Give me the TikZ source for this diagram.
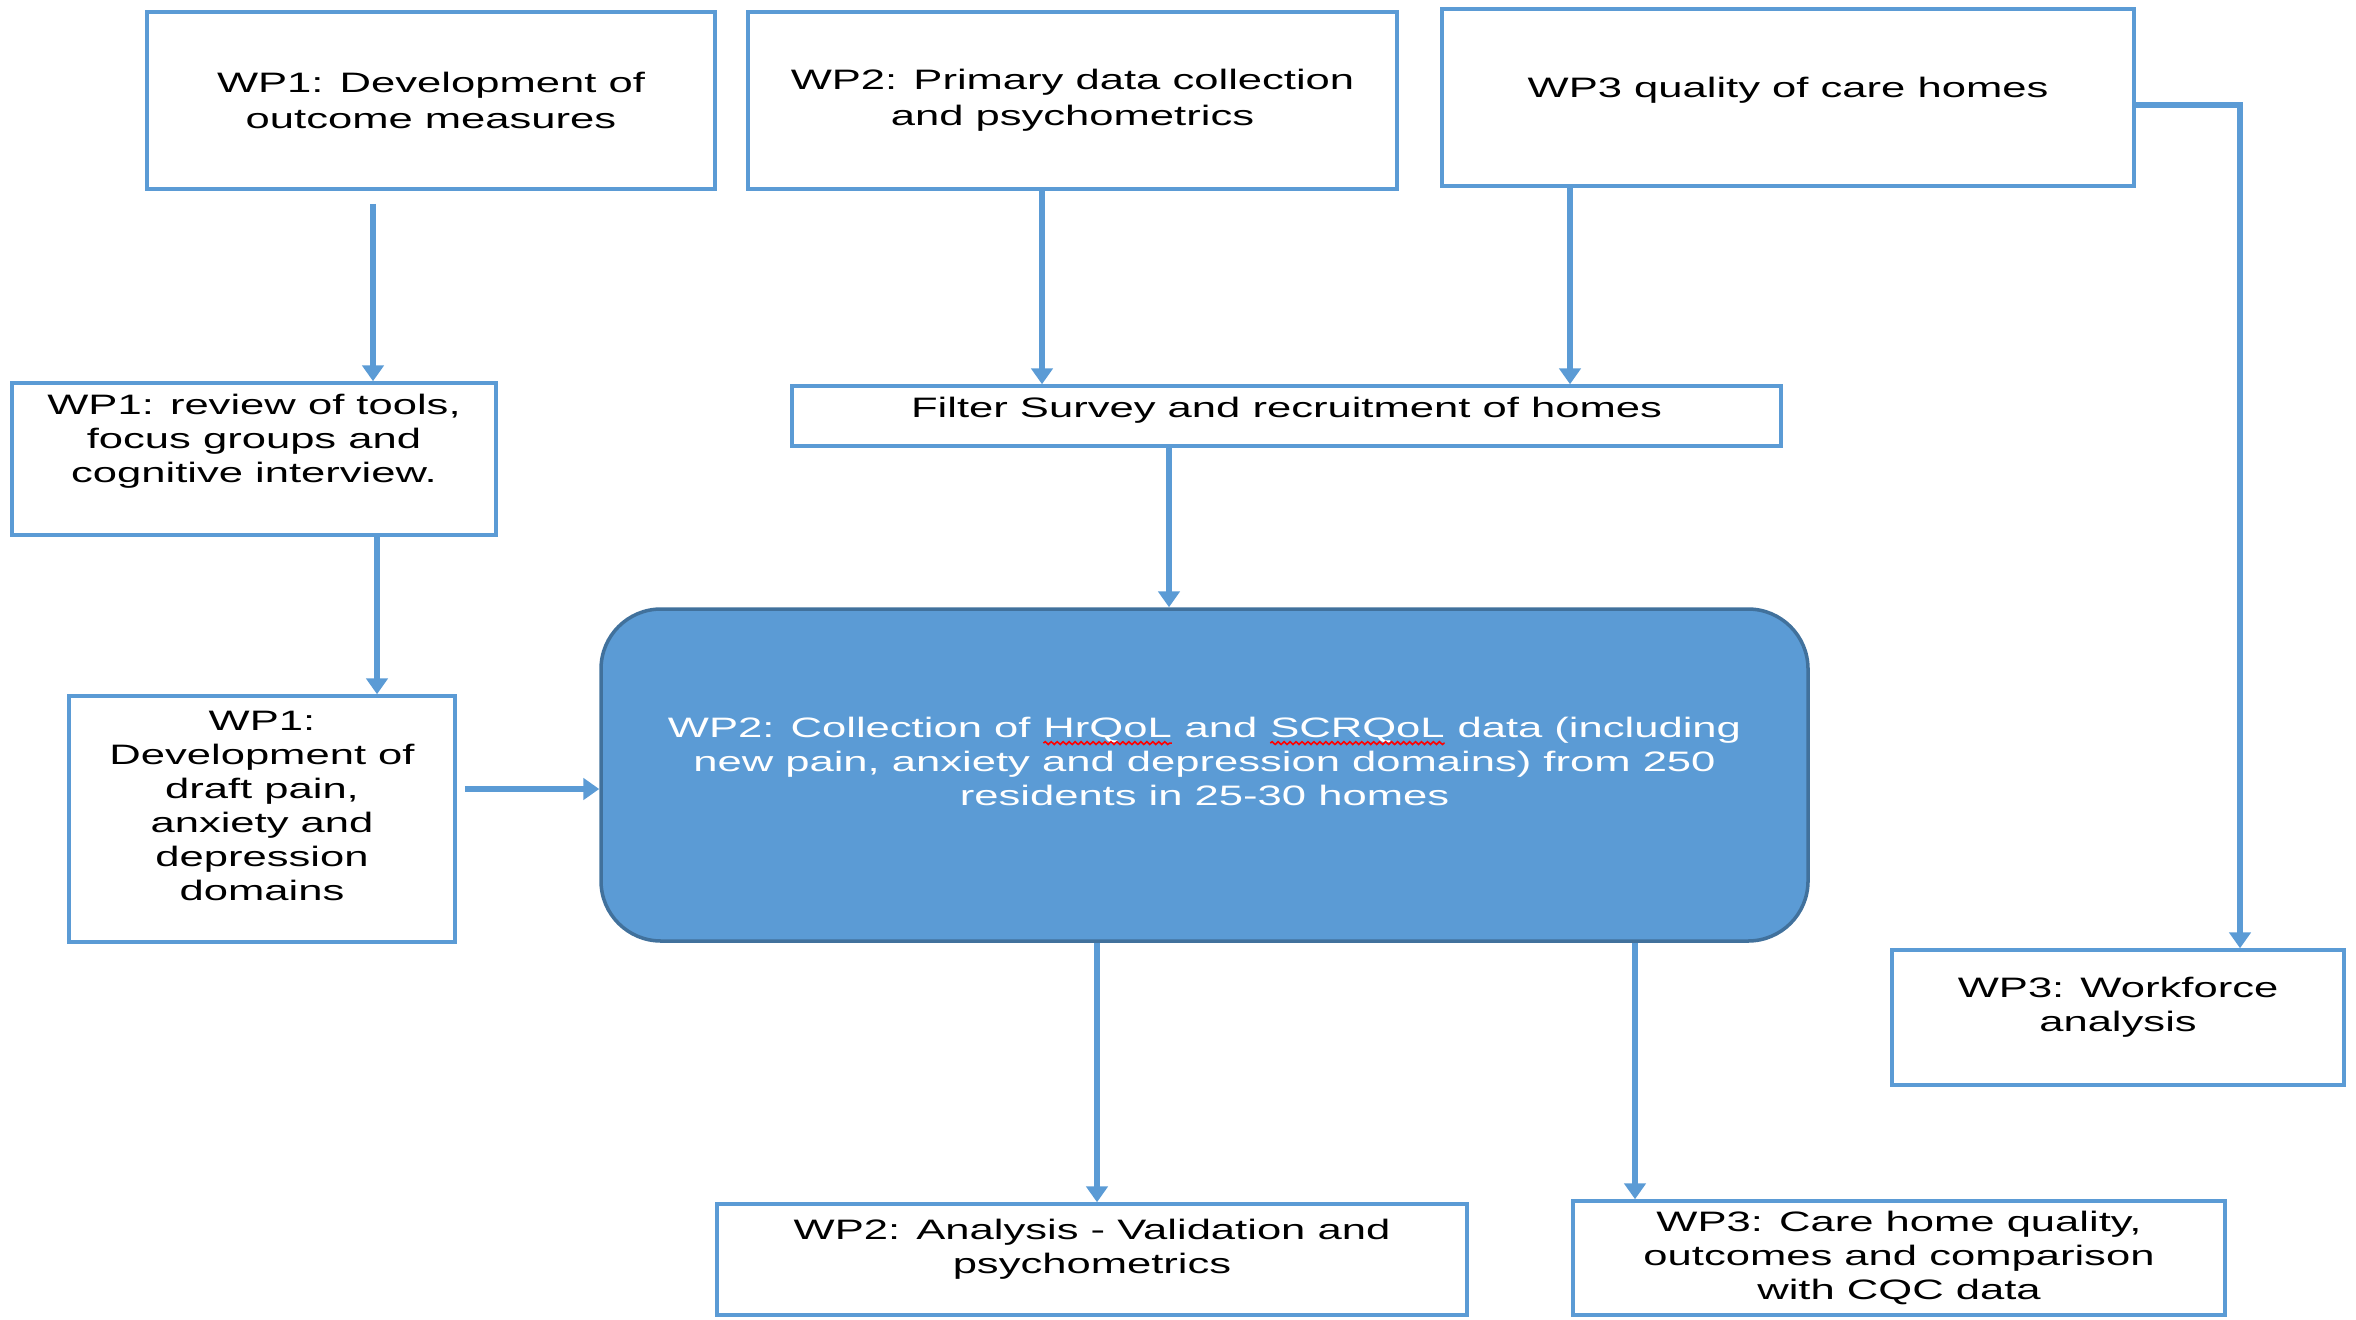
\documentclass[tikz,border=0pt]{standalone}
\usepackage{fontspec}
\setmainfont{Liberation Sans}[FakeStretch=1.55]
\usetikzlibrary{arrows.meta,decorations.pathmorphing}
\definecolor{wpblue}{HTML}{5B9BD5}
\definecolor{wpedge}{HTML}{41719C}
\newcommand\squig[1]{\tikz[baseline=(sq.base)]{\node[draw=none,fill=none,inner sep=0pt,outer sep=0pt,
    minimum width=0pt,minimum height=0pt,text depth=,text height=,rounded corners=0pt] (sq) {#1};
  \draw[red,line width=0.45pt,rounded corners=0pt,decorate,decoration={snake,amplitude=0.4pt,segment length=1.7pt}]
  ([yshift=-1.7pt]sq.base west) -- ([yshift=-1.7pt]sq.base east);}}

\begin{document}
\begin{tikzpicture}[
  box/.style={draw=wpblue,line width=1pt,align=center,inner sep=0pt,
    font=\fontsize{8}{9.7}\selectfont},
  collect/.style={box,draw=wpedge,fill=wpblue,text=white,rounded corners=0.6cm},
  arr/.style={draw=wpblue,line width=1.7pt,-{Triangle[width=6pt,length=4.5pt]}}]
\useasboundingbox (0,0) rectangle (23.56,-13.19);

\node[box,minimum width=5.68cm,minimum height=1.77cm,font=\fontsize{8}{10.2}\selectfont] (wpa) at (4.31,-1.005)
  {WP1: Development of\\outcome measures};
\node[box,minimum width=6.49cm,minimum height=1.77cm,font=\fontsize{8}{10.2}\selectfont] (wpb) at (10.725,-1.005)
  {WP2: Primary data collection\\and psychometrics};
\node[box,minimum width=6.92cm,minimum height=1.77cm,text depth=0.2cm] (wpc) at (17.88,-0.975)
  {WP3 quality of care homes};
\node[box,minimum width=4.84cm,minimum height=1.52cm,text depth=0.42cm] (review) at (2.54,-4.59)
  {WP1: review of tools,\\focus groups and\\cognitive interview.};
\node[box,minimum width=9.89cm,minimum height=0.6cm,text depth=0.18cm] (filter) at (12.865,-4.16)
  {Filter Survey and recruitment of homes};
\node[collect,minimum width=12.07cm,minimum height=3.32cm,text depth=0.28cm] (central) at (12.045,-7.75)
  {WP2: Collection of \squig{HrQoL} and \squig{SCRQoL} data (including\\
   new pain, anxiety and depression domains) from 250\\residents in 25-30 homes};
\node[box,minimum width=3.86cm,minimum height=2.46cm,text depth=0.26cm] (draft) at (2.62,-8.19)
  {WP1:\\Development of\\draft pain,\\anxiety and\\depression\\domains};
\node[box,minimum width=4.52cm,minimum height=1.35cm,text depth=0.26cm] (workforce) at (21.18,-10.175)
  {WP3: Workforce\\analysis};
\node[box,minimum width=7.5cm,minimum height=1.11cm,text depth=0.26cm] (analysis) at (10.92,-12.595)
  {WP2: Analysis - Validation and\\psychometrics};
\node[box,minimum width=6.52cm,minimum height=1.14cm] (carehome) at (18.99,-12.58)
  {WP3: Care home quality,\\outcomes and comparison\\with CQC data};

\draw[arr] ([yshift=-1.3mm]wpa.south -| 3.73,0) -- (review.north -| 3.73,0);
\draw[arr] (wpb.south -| 10.42,0) -- (filter.north -| 10.42,0);
\draw[arr] (wpc.south -| 15.70,0) -- (filter.north -| 15.70,0);
\draw[arr] (wpc.east |- 0,-1.05) -| (workforce.north -| 22.40,0);
\draw[arr] (filter.south -| 11.69,0) -- (central.north -| 11.69,0);
\draw[arr] (review.south -| 3.77,0) -- (draft.north -| 3.77,0);
\draw[arr] ([xshift=0.8mm]draft.east |- 0,-7.89) -- (central.west |- 0,-7.89);
\draw[arr] (central.south -| 10.97,0) -- (analysis.north -| 10.97,0);
\draw[arr] (central.south -| 16.35,0) -- (carehome.north -| 16.35,0);
\end{tikzpicture}
\end{document}
